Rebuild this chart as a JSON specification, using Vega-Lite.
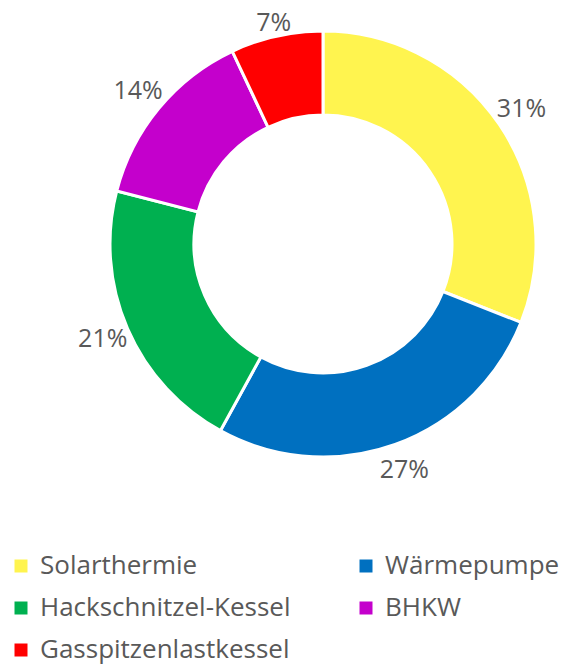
{
  "$schema": "https://vega.github.io/schema/vega-lite/v6.json",
  "width": 478,
  "height": 488,
  "autosize": {"type": "none"},
  "padding": {"left": 84, "top": 0, "right": 0, "bottom": 178},
  "background": "white",
  "view": {"stroke": null},
  "data": {
    "values": [
      {"category": "Solarthermie", "value": 0.31, "idx": 1},
      {"category": "Wärmepumpe", "value": 0.27, "idx": 2},
      {"category": "Hackschnitzel-Kessel", "value": 0.21, "idx": 3},
      {"category": "BHKW", "value": 0.14, "idx": 4},
      {"category": "Gasspitzenlastkessel", "value": 0.07, "idx": 5}
    ]
  },
  "encoding": {
    "theta": {"field": "value", "type": "quantitative", "stack": true},
    "order": {"field": "idx", "type": "quantitative"}
  },
  "layer": [
    {
      "mark": {"type": "arc", "innerRadius": 129, "outerRadius": 213, "stroke": "white", "strokeWidth": 3},
      "encoding": {
        "color": {
          "field": "category",
          "type": "nominal",
          "scale": {
            "domain": ["Solarthermie", "Hackschnitzel-Kessel", "Gasspitzenlastkessel", "Wärmepumpe", "BHKW"],
            "range": ["#FFF44F", "#00B050", "#FF0000", "#0070C0", "#C400CC"]
          },
          "legend": {
            "title": null,
            "orient": "none",
            "legendX": -76,
            "legendY": 553,
            "columns": 2,
            "symbolType": "square",
            "symbolSize": 169,
            "symbolStrokeWidth": 0,
            "symbolOpacity": 1,
            "labelFont": "Open Sans",
            "labelFontSize": 26,
            "labelColor": "#595959",
            "labelOffset": 6,
            "labelLimit": 400,
            "rowPadding": 16,
            "columnPadding": 62,
            "padding": 0
          }
        }
      }
    },
    {
      "mark": {"type": "text", "radius": {"expr": "datum.value < 0.1 ? 226 : 240"}, "font": "Open Sans", "fontSize": 25, "color": "#595959"},
      "encoding": {
        "detail": {"field": "category", "type": "nominal"},
        "text": {"field": "value", "type": "quantitative", "format": ".0%"}
      }
    }
  ]
}
